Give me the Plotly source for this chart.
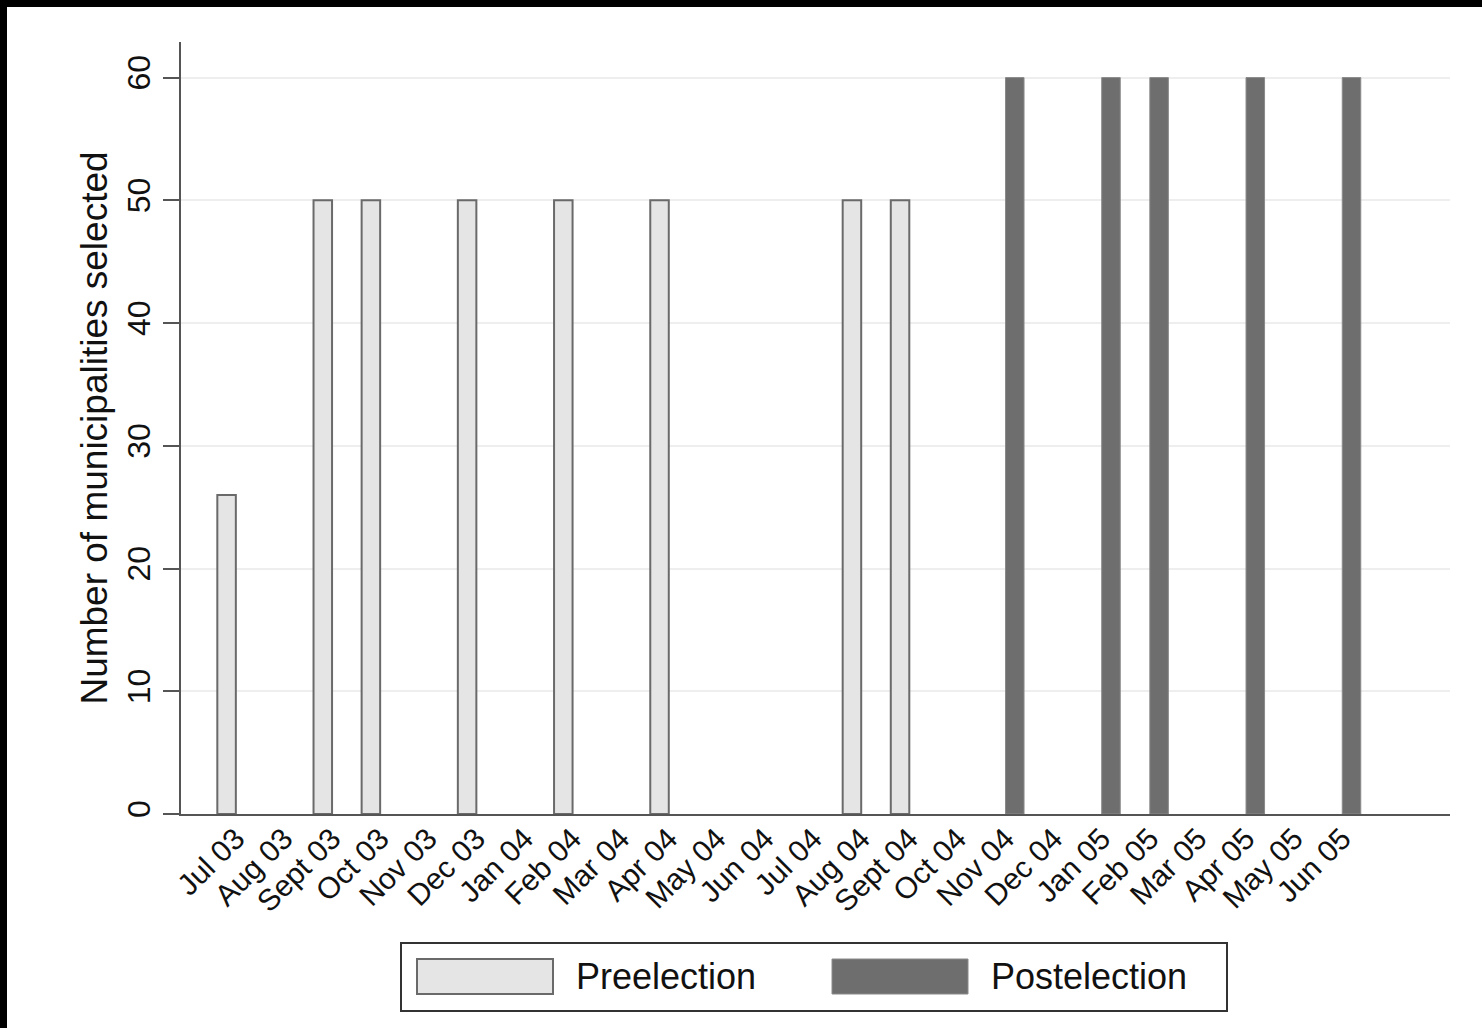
import plotly.graph_objects as go

months = ["Jul 03", "Aug 03", "Sept 03", "Oct 03", "Nov 03", "Dec 03", "Jan 04", "Feb 04",
          "Mar 04", "Apr 04", "May 04", "Jun 04", "Jul 04", "Aug 04", "Sept 04", "Oct 04",
          "Nov 04", "Dec 04", "Jan 05", "Feb 05", "Mar 05", "Apr 05", "May 05", "Jun 05"]
pre_values = [26, None, 50, 50, None, 50, None, 50, None, 50, None, None, None, 50, 50, None,
              None, None, None, None, None, None, None, None]
post_values = [None, None, None, None, None, None, None, None, None, None, None, None, None, None, None, None,
               60, None, 60, 60, None, 60, None, 60]
series_names = ["Preelection", "Postelection"]
y_ticks = [0, 10, 20, 30, 40, 50, 60]
y_title = "Number of municipalities selected"

W, H = 1482, 1028
ML, MR, MT, MB = 181, 32, 42, 214
PW, PH = W - ML - MR, H - MT - MB

def px_x(p):
    return (p - ML) / PW

def px_y(p):
    return (H - MB - p) / PH

PRE_FILL = "#e4e5e4"
PRE_LINE = "#6a6a6a"
POST_FILL = "#6e6e6e"
FONT = "Liberation Sans, Arial, Helvetica, sans-serif"

fig = go.Figure()
fig.add_trace(go.Bar(x=months, y=pre_values, name=series_names[0],
                     marker=dict(color=PRE_FILL, line=dict(color=PRE_LINE, width=2)),
                     showlegend=False))
fig.add_trace(go.Bar(x=months, y=post_values, name=series_names[1],
                     marker=dict(color=POST_FILL, line=dict(color="#8a8a8a", width=1)),
                     showlegend=False))

shapes = []
# black frame strips (top and left)
shapes.append(dict(type="rect", xref="paper", yref="paper", x0=px_x(0), x1=px_x(W), y0=px_y(7), y1=px_y(0),
                   fillcolor="black", line=dict(width=0), layer="above"))
shapes.append(dict(type="rect", xref="paper", yref="paper", x0=px_x(0), x1=px_x(7), y0=px_y(H), y1=px_y(0),
                   fillcolor="black", line=dict(width=0), layer="above"))
# legend box
shapes.append(dict(type="rect", xref="paper", yref="paper", x0=px_x(401), x1=px_x(1227), y0=px_y(1011), y1=px_y(943),
                   fillcolor="white", line=dict(color="#333333", width=2)))
shapes.append(dict(type="rect", xref="paper", yref="paper", x0=px_x(417), x1=px_x(553), y0=px_y(994), y1=px_y(959),
                   fillcolor=PRE_FILL, line=dict(color=PRE_LINE, width=2)))
shapes.append(dict(type="rect", xref="paper", yref="paper", x0=px_x(832), x1=px_x(968), y0=px_y(994), y1=px_y(959),
                   fillcolor=POST_FILL, line=dict(color="#8a8a8a", width=1)))

annotations = [
    dict(text=series_names[0], xref="paper", yref="paper", x=px_x(574), y=px_y(976), xanchor="left", yanchor="middle",
         showarrow=False, font=dict(size=36, color="#111111", family=FONT)),
    dict(text=series_names[1], xref="paper", yref="paper", x=px_x(989), y=px_y(976), xanchor="left", yanchor="middle",
         showarrow=False, font=dict(size=36, color="#111111", family=FONT)),
]

fig.update_layout(
    width=W, height=H, autosize=False,
    margin=dict(l=ML, r=MR, t=MT, b=MB),
    paper_bgcolor="white", plot_bgcolor="white",
    barmode="group", bargap=0.23, bargroupgap=0,
    font=dict(family=FONT, color="#111111"),
    shapes=shapes, annotations=annotations,
    showlegend=False,
)
fig.update_xaxes(
    type="category", range=[-1.14, 25.24],
    showline=True, linecolor="#555555", linewidth=2,
    showgrid=False, ticks="", tickangle=-45, ticklabelstandoff=-7,
    tickfont=dict(size=30, family=FONT, color="#111111"),
)
fig.update_yaxes(
    range=[0, 62.9], tickvals=y_ticks,
    showline=True, linecolor="#555555", linewidth=2,
    showgrid=True, gridcolor="#eeeeee", gridwidth=2, zeroline=False,
    ticks="outside", ticklen=16, tickwidth=2, tickcolor="#555555",
    tickangle=-90, tickfont=dict(size=32, family=FONT, color="#111111"),
    title=dict(text=y_title, font=dict(size=37, family=FONT, color="#111111"), standoff=2),
)

fig.write_html(
    "out.html",
    config={"displayModeBar": False, "staticPlot": True},
    post_script=("document.documentElement.style.margin='0px';document.documentElement.style.overflow='hidden';"
                 "document.documentElement.style.background='white';"
                 "document.body.style.margin='0px';document.body.style.overflow='hidden';"
                 "document.body.style.background='white';"),
)
